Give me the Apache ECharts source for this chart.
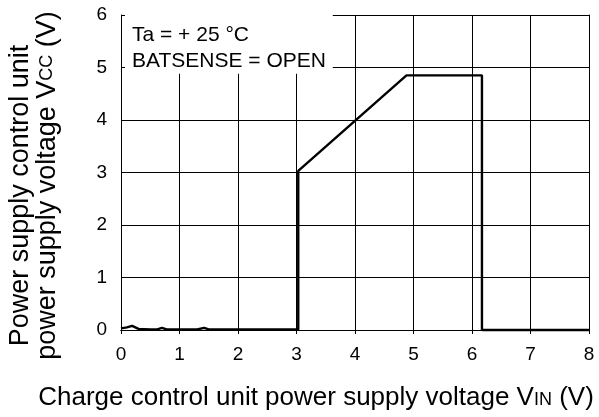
<!DOCTYPE html>
<html>
<head>
<meta charset="utf-8">
<script src="https://cdn.jsdelivr.net/npm/echarts@6/dist/echarts.min.js"></script>
<style>
  html, body { margin: 0; padding: 0; background: #fff; }
  #chart { width: 599px; height: 417px; }
</style>
</head>
<body>
<div id="chart"></div>
<script>
// Input voltage V_IN (V) and resulting V_CC (V)
const vin = [0, 0.1, 0.19, 0.3, 0.5, 0.62, 0.7, 0.78, 1.3, 1.42, 1.5, 3.03, 3.03, 4.88, 6.17, 6.17, 8];
const vcc = [0.03, 0.05, 0.08, 0.02, 0.01, 0.01, 0.04, 0.01, 0.01, 0.04, 0.01, 0.01, 3.03, 4.85, 4.85, 0, 0];

const xTicks = [0, 1, 2, 3, 4, 5, 6, 7, 8];
const yTicks = [0, 1, 2, 3, 4, 5, 6];

const conditions = ['Ta = + 25 °C', 'BATSENSE = OPEN'];

const FONT = 'Liberation Sans, Arial, sans-serif';

const chart = echarts.init(document.getElementById('chart'), null, { renderer: 'canvas' });

const black = '#000';

chart.setOption({
  animation: false,
  backgroundColor: '#fff',
  grid: { left: 121, right: 10, top: 15, bottom: 87, containLabel: false, outerBoundsMode: 'none' },
  xAxis: [
    {
      type: 'value', position: 'bottom',
      min: xTicks[0], max: xTicks[xTicks.length - 1], interval: 1,
      axisLine: { show: true, lineStyle: { color: black, width: 1 } },
      axisTick: { show: false },
      splitLine: { show: true, lineStyle: { color: black, width: 1 } },
      axisLabel: { color: black, fontSize: 19, fontFamily: FONT, margin: 15 },
      name: '{t|Charge control unit power supply voltage V}{s|IN}{t| (V)}',
      nameLocation: 'middle', nameGap: 53,
      nameTextStyle: {
        padding: [0, 78, 0, 0],
        rich: {
          t: { fontSize: 26, fontFamily: FONT, color: black, lineHeight: 30 },
          s: { fontSize: 18, fontFamily: FONT, color: black, lineHeight: 30, padding: [5, 0, 0, 0] }
        }
      },
      z: 0
    },
    {
      type: 'value', position: 'top',
      min: xTicks[0], max: xTicks[xTicks.length - 1], interval: 1,
      axisLine: { show: true, lineStyle: { color: black, width: 1 } },
      axisTick: { show: true, inside: true, length: 4, lineStyle: { color: black } },
      splitLine: { show: false },
      axisLabel: { show: false },
      z: 10
    }
  ],
  yAxis: [
    {
      type: 'value', position: 'left',
      min: yTicks[0], max: yTicks[yTicks.length - 1], interval: 1,
      axisLine: { show: false },
      axisTick: { show: false },
      splitLine: { show: true, lineStyle: { color: black, width: 1 } },
      axisLabel: { color: black, fontSize: 19, fontFamily: FONT, margin: 14 },
      name: '{a|Power supply control unit}\n{t|power supply voltage V}{s|CC}{t| (V)}',
      nameLocation: 'middle', nameRotate: 90, nameGap: 60,
      nameTextStyle: {
        lineHeight: 27,
        padding: [0, 26, 0, 0],
        rich: {
          a: { fontSize: 27, fontFamily: FONT, color: black, lineHeight: 27, padding: [0, 20, 0, 0] },
          t: { fontSize: 27, fontFamily: FONT, color: black, lineHeight: 27 },
          s: { fontSize: 18, fontFamily: FONT, color: black, lineHeight: 27 }
        }
      },
      z: 0
    },
    {
      type: 'value', position: 'left',
      min: yTicks[0], max: yTicks[yTicks.length - 1], interval: 1,
      axisLine: { show: true, lineStyle: { color: black, width: 1 } },
      axisTick: { show: true, inside: true, length: 4, lineStyle: { color: black } },
      splitLine: { show: false },
      axisLabel: { show: false },
      z: 10
    },
    {
      type: 'value', position: 'right',
      min: yTicks[0], max: yTicks[yTicks.length - 1], interval: 1,
      axisLine: { show: true, lineStyle: { color: black, width: 1 } },
      axisTick: { show: false },
      splitLine: { show: false },
      axisLabel: { show: false },
      z: 10
    }
  ],
  series: [
    {
      type: 'line',
      xAxisIndex: 0, yAxisIndex: 0,
      data: vin.map((x, i) => [x, vcc[i]]),
      showSymbol: false,
      lineStyle: { color: black, width: 2.4 },
      clip: false,
      z: 3,
      markArea: {
        silent: true,
        itemStyle: { color: '#fff', opacity: 1, borderWidth: 0 },
        data: [[{ coord: [0, 4.88] }, { coord: [3.62, 6] }]]
      }
    }
  ],
  graphic: [
    {
      type: 'text', x: 132, y: 35, z: 20,
      style: { text: conditions[0], font: '21px ' + FONT, fill: black, verticalAlign: 'middle' }
    },
    {
      type: 'text', x: 132, y: 61, z: 20,
      style: { text: conditions[1], font: '21px ' + FONT, fill: black, verticalAlign: 'middle' }
    }
  ]
});
</script>
</body>
</html>
